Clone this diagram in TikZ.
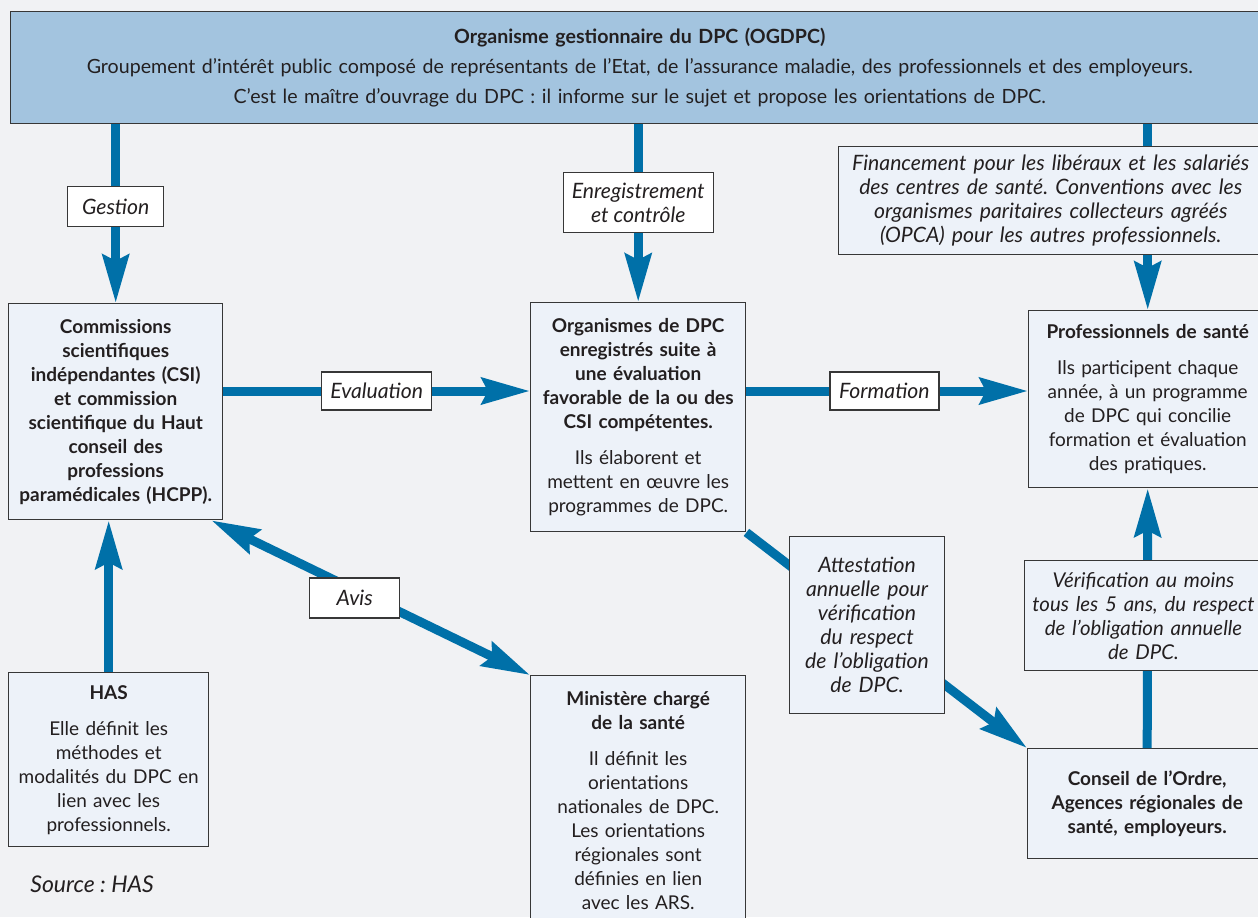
\documentclass[tikz,border=0pt]{standalone}
\usepackage{fontspec}
\setmainfont{Lato}
\usetikzlibrary{arrows.meta,positioning,calc}
\frenchspacing

\definecolor{bgcol}{RGB}{241,242,244}
\definecolor{topcol}{RGB}{163,196,223}
\definecolor{boxcol}{RGB}{237,242,249}
\definecolor{flowcol}{RGB}{0,112,168}
\definecolor{linecol}{RGB}{55,55,55}
\definecolor{txtcol}{RGB}{35,31,32}

\begin{document}
\begin{tikzpicture}[x=0.5pt,y=-0.5pt,
every node/.style={text=txtcol,font=\fontsize{9.5}{12}\selectfont},
box/.style={draw=linecol,line width=0.7pt,fill=boxcol,align=center,
  anchor=north west,inner xsep=3pt,inner ysep=2pt},
lbl/.style={draw=linecol,line width=0.7pt,fill=white,align=center,
  font=\fontsize{10.6}{12}\selectfont\itshape,inner sep=1pt},
note/.style={box,font=\fontsize{10.6}{12}\selectfont\itshape},
flow/.style={draw=flowcol,line width=4.5pt,
  -{Stealth[length=24pt,width=13pt,inset=3pt]}},
flowboth/.style={flow,{Stealth[length=24pt,width=13pt,inset=3pt]}-{Stealth[length=24pt,width=13pt,inset=3pt]}}]
\useasboundingbox (0,0) rectangle (1258,917);
\clip (0,0) rectangle (1258,917);
\fill[bgcol] (0,0) rectangle (1258,917);

% main boxes
\node[box,fill=topcol,text width=623pt,minimum height=56pt,
  font=\fontsize{9.8}{15}\selectfont] (top) at (10,11)
  {\textbf{Organisme gestionnaire du DPC (OGDPC)}\\
   Groupement d’intérêt public composé de représentants de l’Etat, de l’assurance maladie, des professionnels et des employeurs.\\
   C’est le maître d’ouvrage du DPC : il informe sur le sujet et propose les orientations de DPC.};
\node[box,text width=101pt,minimum height=108pt] (csi) at (8,303)
  {\bfseries Commissions\\ scientifiques\\ indépendantes (CSI)\\ et commission\\
   scientifique du Haut\\ conseil des\\ professions\\ paramédicales (HCPP).};
\node[box,text width=101.5pt,minimum height=114.5pt] (org) at (530,302)
  {\textbf{Organismes de DPC}\\ \textbf{enregistrés suite à}\\ \textbf{une évaluation}\\
   \textbf{favorable de la ou des}\\ \textbf{CSI compétentes.}\\[6pt]
   Ils élaborent et\\ mettent en œuvre les\\ programmes de DPC.};
\node[box,text width=113pt,minimum height=88.5pt] (prof) at (1028,310)
  {\textbf{Professionnels de santé}\\[6pt]
   Ils participent chaque\\ année, à un programme\\ de DPC qui concilie\\
   formation et évaluation\\ des pratiques.};
\node[box,text width=94pt,minimum height=87pt] (has) at (8,672)
  {\textbf{HAS}\\[6pt]
   Elle définit les\\ méthodes et\\ modalités du DPC en\\ lien avec les\\ professionnels.};
\node[box,text width=101.5pt,minimum height=125pt] (min) at (530,675)
  {\textbf{Ministère chargé}\\ \textbf{de la santé}\\[6pt]
   Il définit les\\ orientations\\ nationales de DPC.\\ Les orientations\\
   régionales sont\\ définies en lien\\ avec les ARS.};
\node[box,text width=113.5pt,minimum height=55pt] (con) at (1027,748)
  {\bfseries Conseil de l’Ordre,\\ Agences régionales de\\ santé, employeurs.};

% connectors
\draw[flow] (top.south -| csi.north) -- node[lbl,pos=0.46,minimum width=48pt,minimum height=20pt]{Gestion} (csi.north);
\draw[flow] (top.south -| org.north) -- node[lbl,pos=0.44,minimum width=75pt,minimum height=30pt]{Enregistrement\\ et contrôle} (org.north);
\draw[flow] (top.south -| prof.north) -- (prof.north);
\node[note,text width=206pt,minimum height=54pt] (fin) at (838,146)
  {Financement pour les libéraux et les salariés\\ des centres de santé. Conventions avec les\\
   organismes paritaires collecteurs agréés\\ (OPCA) pour les autres professionnels.};
\coordinate (row) at (0,391);
\draw[flow] (csi.east |- row) -- node[lbl,pos=0.5,minimum width=55pt,minimum height=19pt]{Evaluation} (org.west |- row);
\draw[flow] (org.east |- row) -- node[lbl,pos=0.49,minimum width=54.5pt,minimum height=19pt]{Formation} (prof.west |- row);
\draw[flow] (has.north) -- (csi.south -| has.north);
\draw[flowboth] ([xshift=-6pt]csi.south east) -- node[lbl,pos=0.45,yshift=-4pt,minimum width=45pt,minimum height=20pt]{Avis} (min.north west);
\draw[flow] (org.south east) -- node[note,anchor=center,pos=0.43,text width=71.5pt,minimum height=88.5pt]
  {Attestation\\ annuelle pour\\ vérification\\ du respect\\ de l’obligation\\ de DPC.} (con.north west);
\draw[flow] (con.north) -- node[note,anchor=center,pos=0.51,xshift=-2pt,text width=118pt,inner xsep=0.5pt,
  minimum height=55pt,font=\fontsize{10.2}{12}\selectfont\itshape]
  {Vérification au moins\\ tous les 5 ans, du respect\\ de l’obligation annuelle\\ de DPC.} (prof.south);

\node[anchor=west,inner sep=0pt,font=\fontsize{11.5}{12}\selectfont\itshape] (src) at (30,884) {Source : HAS};
\end{tikzpicture}
\end{document}
